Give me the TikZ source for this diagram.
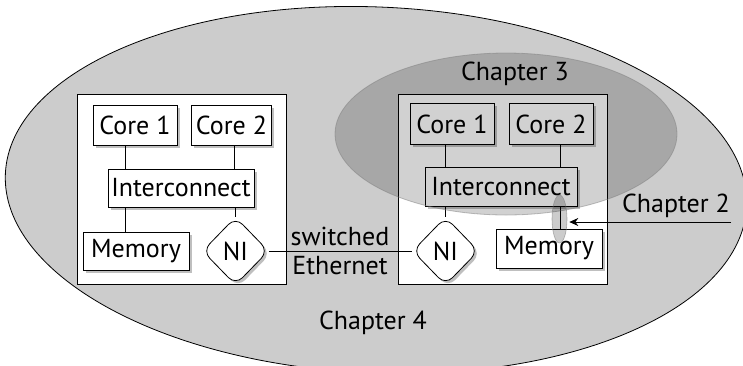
\documentclass[tikz,border=0pt]{standalone}
\usepackage{fontspec}
\setmainfont{PT Sans}
\usetikzlibrary{shapes.geometric,shadows,arrows.meta}
\definecolor{outerfill}{RGB}{204,204,204}
\begin{document}
\begin{tikzpicture}[x=1pt,y=-1pt,
  txt/.style={font=\fontsize{26}{30}\selectfont},
  sysbox/.style={draw=black, fill=white, line width=0.9pt, inner sep=0pt, minimum width=209pt, minimum height=190pt},
  comp/.style={txt, draw=black, fill=white, line width=0.8pt, inner sep=0pt,
    drop shadow={shadow xshift=2.5pt, shadow yshift=-2.5pt, fill=black, opacity=0.25}},
  nibox/.style={comp, diamond, aspect=1, minimum width=66pt, minimum height=68pt, rounded corners=10pt},
  conn/.style={line width=0.8pt},
  lbl/.style={txt, inner sep=0pt}
]
\useasboundingbox (0,0) rectangle (743,365);
\begin{scope}
  \clip (0,0) rectangle (743,365);
  \draw[fill=outerfill, line width=0.8pt, rotate around={-2.5:(376,190)}] (376,190) ellipse [x radius=371pt, y radius=183pt];
\end{scope}

% system boxes
\node[sysbox] (sysL) at (181.5,189) {};
\node[sysbox] (sysR) at (502.5,189) {};

% left system
\node[comp, minimum width=84pt, minimum height=40pt] (c1L) at (135,125) {Core 1};
\node[comp, minimum width=80pt, minimum height=40pt] (c2L) at (231.5,125) {Core 2};
\node[comp, minimum width=146pt, minimum height=38pt] (icL) at (181,188) {Interconnect};
\node[comp, minimum width=106pt, minimum height=38pt] (memL) at (136,251) {Memory};
\node[nibox] (niL) at (235.5,251) {NI};

% right system
\node[comp, minimum width=84pt, minimum height=41pt] (c1R) at (452,124) {Core 1};
\node[comp, minimum width=84pt, minimum height=41pt] (c2R) at (551,124) {Core 2};
\node[comp, minimum width=152pt, minimum height=39pt] (icR) at (501,186.5) {Interconnect};
\node[comp, minimum width=106pt, minimum height=39pt] (memR) at (549,248.5) {Memory};
\node[nibox] (niR) at (445.5,251) {NI};

% connectors left
\draw[conn] ([xshift=-10pt]c1L.south) -- ([xshift=-10pt]c1L.south |- icL.north);
\draw[conn] ([xshift=2.5pt]c2L.south) -- ([xshift=2.5pt]c2L.south |- icL.north);
\draw[conn] ([xshift=-10pt]c1L.south |- icL.south) -- ([xshift=-10pt]c1L.south |- memL.north);
\draw[conn] (niL.north |- icL.south) -- (niL.north);

% connectors right
\draw[conn] ([xshift=-7pt]c1R.south) -- ([xshift=-7pt]c1R.south |- icR.north);
\draw[conn] ([xshift=9pt]c2R.south) -- ([xshift=9pt]c2R.south |- icR.north);
\draw[conn] (niR.north |- icR.south) -- (niR.north);
\draw[conn] ([xshift=9pt]c2R.south |- icR.south) -- ([xshift=9pt]c2R.south |- memR.north);

% network
\draw[conn] (niL.east) -- (niR.west);
\node[lbl] (sw) at (340,236) {switched};
\node[lbl] (eth) at (340,266) {Ethernet};

% chapter labels
\node[lbl] (ch3) at (515,74) {Chapter 3};
\node[lbl] (ch4) at (373,323) {Chapter 4};

% chapter 3 overlay
\node[ellipse, minimum width=342pt, minimum height=162pt, inner sep=0pt,
  fill=black, fill opacity=0.18, draw=black!50, draw opacity=0.5, line width=0.8pt] (ch3area) at (506,134) {};

% chapter 2 marker
\node[ellipse, minimum width=15pt, minimum height=48pt, inner sep=0pt,
  fill=black, fill opacity=0.2, draw=black!50, draw opacity=0.6, line width=0.6pt] (ch2mark) at (559.5,219) {};
\coordinate (ch2end) at (731,222);
\draw[conn, -{Stealth[length=9pt,width=8pt]}, shorten >=2pt] (ch2end) -- (ch2mark.east |- ch2end);
\node[lbl] (ch2) at (676,206) {Chapter 2};
\end{tikzpicture}
\end{document}
